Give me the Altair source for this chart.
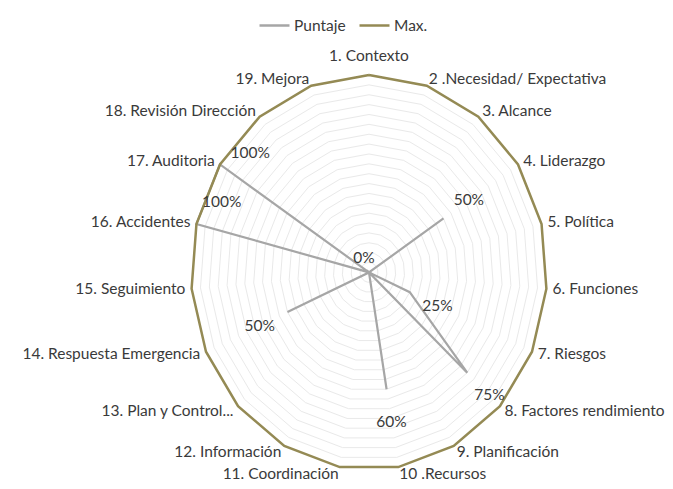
import math
import altair as alt
import pandas as pd

# ---- data ----
categories = [
    "1. Contexto", "2 .Necesidad/ Expectativa", "3. Alcance", "4. Liderazgo",
    "5. Política", "6. Funciones", "7. Riesgos", "8. Factores rendimiento",
    "9. Planificación", "10 .Recursos", "11. Coordinación", "12. Información",
    "13. Plan y Control...", "14. Respuesta Emergencia", "15. Seguimiento",
    "16. Accidentes", "17. Auditoria", "18. Revisión Dirección", "19. Mejora",
]
puntaje = [0, 0, 0, 0.50, 0, 0, 0.25, 0.75, 0, 0.60, 0, 0, 0, 0.50, 0, 1.00, 1.00, 0, 0]
maximo = [1, 1, 1, 1, 1, 1, 1, 1, 1, 1, 1, 1, 1, 1, 1, 1, 1, 1, 1]
series_names = ["Puntaje", "Max."]
grid_levels = [0.05, 0.10, 0.15, 0.20, 0.25, 0.30, 0.35, 0.40, 0.45, 0.50,
               0.55, 0.60, 0.65, 0.70, 0.75, 0.80, 0.85, 0.90, 0.95, 1.00]

# ---- styling ----
FONT = "Lato"
FS = 15.5
TXT = "#3a3a3a"
GRAY = "#a6a6a6"
OLIVE = "#948a54"
W, H = 657, 481
CX, CY = 361, 264.4      # centre inside plot area (px)
RX, RY = 178, 197.4      # px per unit

xdom = [-CX / RX, (W - CX) / RX]
ydom = [-(H - CY) / RY, CY / RY]

n = len(categories)


def ang(j):
    return 2 * math.pi * j / n


# series polygons
line_rows = []
for s, vals in zip(series_names, [puntaje, maximo]):
    for j in range(n + 1):
        k = j % n
        r = vals[k]
        line_rows.append({"series": s, "j": j, "cat": categories[k], "value": r,
                          "x": r * math.sin(ang(j)), "y": r * math.cos(ang(j))})
line_df = pd.DataFrame(line_rows)

# grid rings
grid_rows = []
for lv in grid_levels:
    for j in range(n + 1):
        grid_rows.append({"ring": lv, "j": j,
                          "x": lv * math.sin(ang(j)), "y": lv * math.cos(ang(j))})
grid_df = pd.DataFrame(grid_rows)

# category labels
lab_rows = []
for k, c in enumerate(categories):
    side = "top" if k == 0 else ("right" if k <= (n - 1) // 2 else "left")
    lab_rows.append({"cat": c, "k": k, "side": side,
                     "x": 1.035 * math.sin(ang(k)), "y": 1.035 * math.cos(ang(k))})
lab_df = pd.DataFrame(lab_rows)

# data labels (Puntaje)
dl_rows = []
for k, v in enumerate(puntaje):
    if v >= 1:
        lr, a = v - 0.1, ang(k) + math.radians(9)
    elif v > 0:
        lr, a = v + 0.17, ang(k)
    else:
        lr, a = 0.0, 0.0
    dl_rows.append({"k": k, "value": v, "x": lr * math.sin(a), "y": lr * math.cos(a)})
dl_df = pd.DataFrame(dl_rows)

X = alt.X("x:Q", scale=alt.Scale(domain=xdom, nice=False, zero=False), axis=None)
Y = alt.Y("y:Q", scale=alt.Scale(domain=ydom, nice=False, zero=False), axis=None)

color = alt.Color(
    "series:N",
    scale=alt.Scale(domain=series_names, range=[GRAY, OLIVE]),
    legend=alt.Legend(
        title=None, orient="none", direction="horizontal", legendX=250, legendY=1,
        symbolType="stroke", symbolSize=900, symbolStrokeWidth=2.5,
        labelFont=FONT, labelFontSize=FS, labelColor=TXT, labelOffset=3,
        columnPadding=8, padding=0,
    ),
)

grid = alt.Chart(grid_df).mark_line(color="#e9e9e9", strokeWidth=1).encode(
    x=X, y=Y, detail="ring:N", order="j:Q")

p_line = alt.Chart(line_df).transform_filter("datum.series == 'Puntaje'").mark_line(
    strokeWidth=2.2).encode(x=X, y=Y, color=color, order="j:Q")
m_line = alt.Chart(line_df).transform_filter("datum.series == 'Max.'").mark_line(
    strokeWidth=2.5).encode(x=X, y=Y, color=color, order="j:Q")

lab_top = alt.Chart(lab_df).transform_filter("datum.side == 'top'").mark_text(
    font=FONT, fontSize=FS, color=TXT, align="center", baseline="bottom", dy=-4).encode(
    x=X, y=Y, text="cat:N")
lab_right = alt.Chart(lab_df).transform_filter("datum.side == 'right'").mark_text(
    font=FONT, fontSize=FS, color=TXT, align="left", baseline="middle").encode(
    x=X, y=Y, text="cat:N")
lab_left = alt.Chart(lab_df).transform_filter("datum.side == 'left'").mark_text(
    font=FONT, fontSize=FS, color=TXT, align="right", baseline="middle").encode(
    x=X, y=Y, text="cat:N")

dl_pos = alt.Chart(dl_df).transform_filter("datum.value > 0").mark_text(
    font=FONT, fontSize=FS, color=TXT, align="center", baseline="middle").encode(
    x=X, y=Y, text=alt.Text("value:Q", format=".0%"))
dl_zero = alt.Chart(dl_df).transform_filter("datum.value == 0").transform_aggregate(
    vmin="min(value)", x="min(x)", y="min(y)").mark_text(
    font=FONT, fontSize=FS, color=TXT, align="center", baseline="middle", dx=-5, dy=-14).encode(
    x=X, y=Y, text=alt.Text("vmin:Q", format=".0%"))

chart = alt.layer(grid, p_line, m_line, lab_top, lab_right, lab_left, dl_pos, dl_zero).properties(
    width=W, height=H, autosize=alt.AutoSizeParams(type="none"), padding=0,
    background="white",
).configure_view(strokeWidth=0)

chart.save("out.html", embed_options={"renderer": "svg", "actions": False})
